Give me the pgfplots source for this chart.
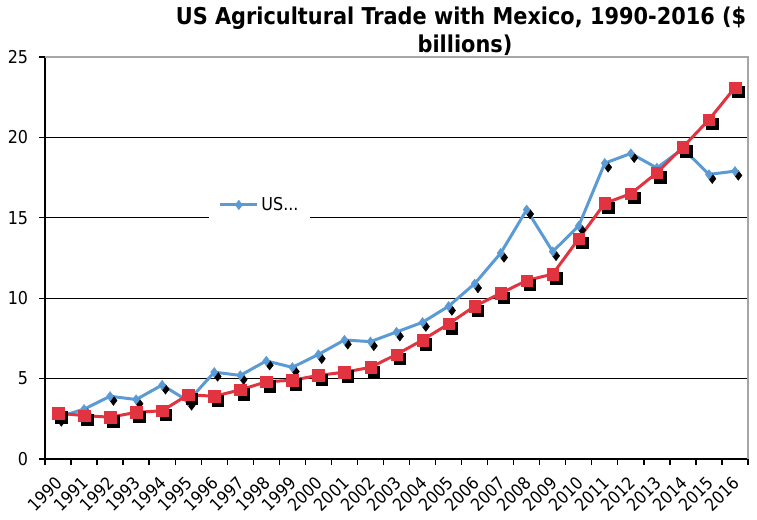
\documentclass[border=0pt]{standalone}
\usepackage{fontspec}
\setmainfont{DejaVu Sans Condensed}
\usepackage{pgfplots}
\pgfplotsset{compat=1.18}
\usepackage{pgfplotstable}
\definecolor{sblue}{RGB}{91,155,213}
\definecolor{sred}{RGB}{226,52,64}
\pgfplotstableread{
x y
0 2.6
1 3.1
2 3.9
3 3.7
4 4.6
5 3.6
6 5.4
7 5.2
8 6.1
9 5.7
10 6.5
11 7.4
12 7.3
13 7.9
14 8.5
15 9.5
16 10.9
17 12.8
18 15.5
19 12.9
20 14.5
21 18.4
22 19.0
23 18.1
24 19.3
25 17.7
26 17.9
}\bluedata
\pgfplotstableread{
x y
0 2.85
1 2.7
2 2.6
3 2.9
4 3.0
5 4.0
6 3.9
7 4.3
8 4.8
9 4.9
10 5.2
11 5.4
12 5.7
13 6.5
14 7.4
15 8.4
16 9.5
17 10.3
18 11.1
19 11.5
20 13.7
21 15.9
22 16.5
23 17.8
24 19.4
25 21.1
26 23.1
}\reddata
\begin{document}
\begin{tikzpicture}
\begin{axis}[
  at={(33.75pt,45pt)}, anchor=south west,
  scale only axis, width=527.25pt, height=301.5pt,
  xmin=-0.5, xmax=26.5, ymin=0, ymax=25,
  axis x line*=bottom, axis y line*=left,
  axis line style={black, line width=1pt},
  /pgf/number format/assume math mode=true,
  xtick={0,...,26},
  xticklabel={\pgfmathparse{int(1990+\tick)}\pgfmathresult},
  major x tick style={draw=none},
  minor xtick={-0.5,0.5,...,26.5},
  minor tick length=4.5pt,
  ytick={0,5,...,25},
  major tick length=4.5pt,
  tick align=outside,
  tick style={black, line width=1pt},
  ymajorgrids, grid style={black, line width=1pt},
  tick label style={font=\fontsize{13.3}{14}\selectfont},
  xticklabel style={font=\fontsize{13}{14}\selectfont, yshift=-11.25pt, xshift=1pt, rotate=45, anchor=east, inner sep=0pt},
  yticklabel style={anchor=east, inner sep=0pt, xshift=-8pt},
  legend style={at={(0.3058,0.632)}, anchor=center, fill=white, draw=none,
    font=\fontsize{13.3}{14}\selectfont, inner xsep=7pt, inner ysep=4pt},
  legend image code/.code={\draw[mark repeat=2,mark phase=2,#1] plot coordinates {(0pt,0pt) (13.9pt,0pt) (27.75pt,0pt)};},
  clip=false,
]
\draw[gray!70, line width=1pt] (rel axis cs:0,1) -- (rel axis cs:1,1) -- (rel axis cs:1,0);
\addplot[forget plot, only marks, mark=diamond*, black, mark size=3.6pt, mark options={xshift=2.5pt, yshift=-3.2pt}] table {\bluedata};
\addplot[sblue, line width=2.25pt, mark=diamond*, mark size=3.6pt, mark options={solid, fill=sblue, draw=sblue, line width=0.3pt}] table {\bluedata};
\addlegendentry{US...}
\addplot[forget plot, only marks, mark=square*, black, mark size=4.3pt, mark options={xshift=2.5pt, yshift=-3.2pt}] table {\reddata};
\addplot[forget plot, sred, line width=2.25pt, mark=square*, mark size=4.3pt, mark options={solid, fill=sred, draw=sred, line width=0.3pt}] table {\reddata};
\end{axis}
\node[anchor=base, font=\bfseries\fontsize{17.4}{20}\selectfont, inner sep=0pt] at (345.75pt,370.5pt) {US Agricultural Trade with Mexico, 1990-2016 (\$};
\node[anchor=base, font=\bfseries\fontsize{17.4}{20}\selectfont, inner sep=0pt] at (348.75pt,349.5pt) {billions)};
\pgfresetboundingbox
\path[use as bounding box] (0,0) rectangle (567.75pt,389.25pt);
\end{tikzpicture}
\end{document}
